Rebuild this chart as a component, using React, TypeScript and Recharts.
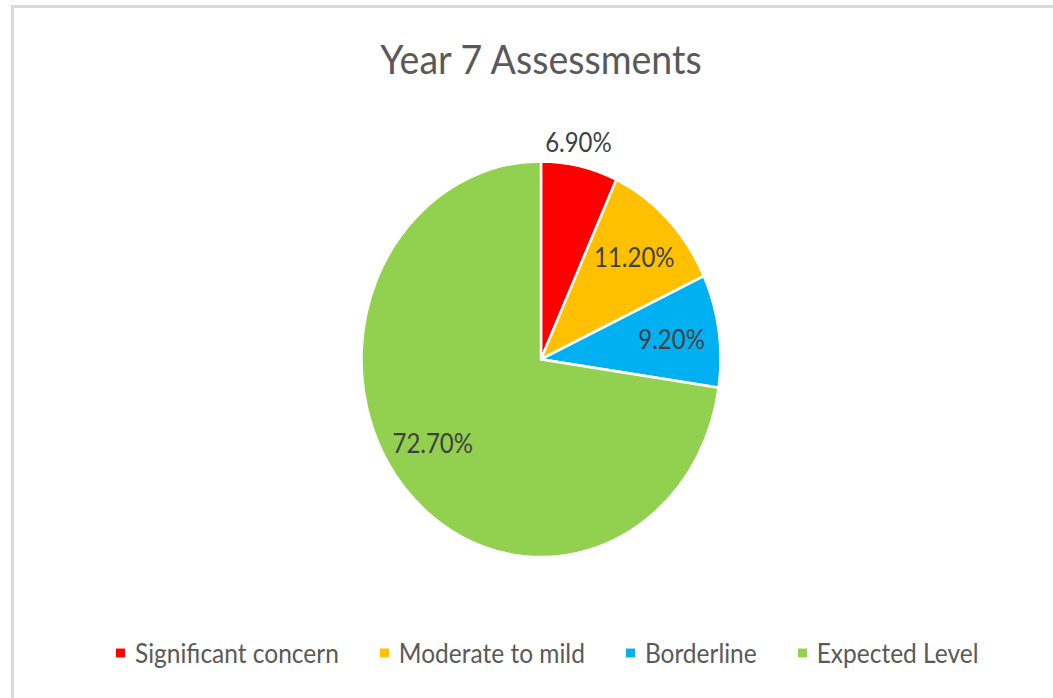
import { PieChart, Pie, Cell, Legend } from 'recharts';

const categories = ['Significant concern', 'Moderate to mild', 'Borderline', 'Expected Level'];
const shares = [6.9, 11.2, 9.2, 72.7];
const colors = ['#FF0000', '#FFC000', '#00B0F0', '#92D050'];

const data = categories.map((name, i) => ({ name, value: shares[i] }));

const FONT = 'Lato, "Open Sans", sans-serif';
const RADIAN = Math.PI / 180;
// the reference is stretched vertically, so the chart is drawn flat and scaled
const STRETCH = 1.103;

const renderLabel = (props: any) => {
  const { cx, cy, midAngle, outerRadius, value, index } = props;
  // small slice gets its label outside, the rest sit inside (excel "best fit")
  const r = index === 0 ? outerRadius + 22.5 : outerRadius * 0.735;
  const angle = index === 3 ? midAngle - 6 : midAngle;
  const x = cx + r * Math.cos(-angle * RADIAN);
  const y = cy + r * Math.sin(-angle * RADIAN);
  return (
    <text
      x={index === 0 ? x - 6 : x}
      y={y}
      fill="#404040"
      fontSize={24}
      fontFamily={FONT}
      textAnchor="middle"
      dominantBaseline="central"
    >
      {`${Number(value).toFixed(2)}%`}
    </text>
  );
};

// legend in data order (recharts would sort it by name)
const renderLegend = () => (
  <div style={{ display: 'flex', paddingLeft: 116, fontFamily: FONT, fontSize: 24.5, lineHeight: '25px', color: '#595959' }}>
    {categories.map((name, i) => (
      <div key={name} style={{ display: 'flex', alignItems: 'center', marginRight: 41 }}>
        <span style={{ display: 'inline-block', width: 9, height: 8, background: colors[i], marginRight: 10 }} />
        <span>{name}</span>
      </div>
    ))}
  </div>
);

export default function App() {
  return (
    <div style={{ position: 'absolute', left: 0, top: 0, width: 1053, height: 698, overflow: 'hidden', background: '#fff' }}>
      <div style={{ position: 'absolute', left: 11, top: 5, right: -10, bottom: -10, borderLeft: '3px solid #d9d9d9', borderTop: '3px solid #d9d9d9' }} />
      <div style={{ position: 'absolute', left: 0, top: 0, transform: `scaleY(${STRETCH})`, transformOrigin: '0 0' }}>
        <PieChart width={1053} height={633} margin={{ top: 0, right: 0, bottom: 0, left: 0 }}>
          <text x={541} y={67} textAnchor="middle" fill="#595959" fontSize={37.5} fontFamily={FONT}>
            Year 7 Assessments
          </text>
          <Pie
            data={data}
            dataKey="value"
            nameKey="name"
            cx={541}
            cy={325.7}
            outerRadius={179.5}
            startAngle={90}
            endAngle={-270}
            stroke="#ffffff"
            strokeWidth={2.5}
            label={renderLabel}
            labelLine={false}
            isAnimationActive={false}
          >
            {data.map((d, i) => (
              <Cell key={d.name} fill={colors[i]} />
            ))}
          </Pie>
          <Legend content={renderLegend} wrapperStyle={{ top: 579, left: 0, width: 1053 }} />
        </PieChart>
      </div>
    </div>
  );
}
